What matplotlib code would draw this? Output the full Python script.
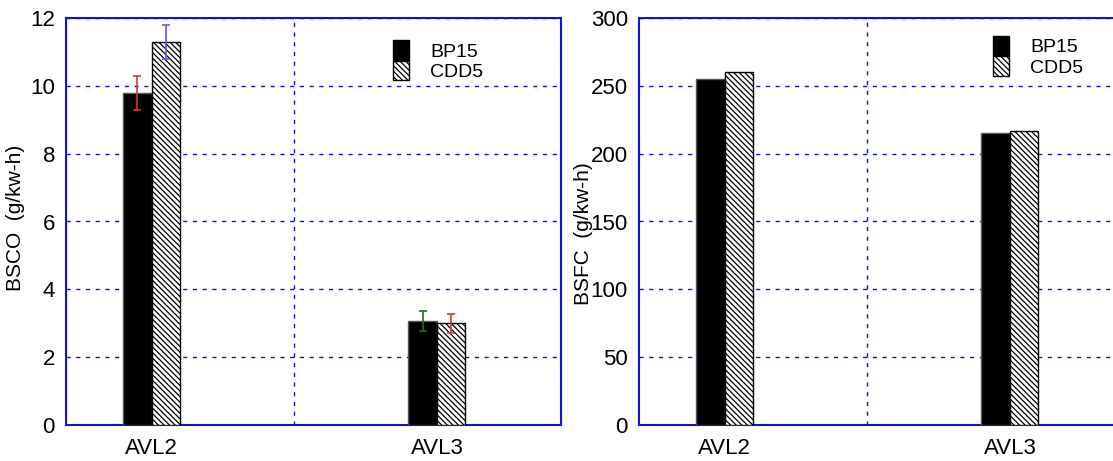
import numpy as np
import matplotlib
matplotlib.use("Agg")
import matplotlib.pyplot as plt
from matplotlib.patches import Patch

# data
categories = ["AVL2", "AVL3"]
series = ["BP15", "CDD5"]
bsco_bp15 = [9.8, 3.07]
bsco_cdd5 = [11.3, 3.0]
bsco_bp15_err = [0.5, 0.3]
bsco_cdd5_err = [0.5, 0.28]
bsco_err_colors_bp15 = ["#e03535", "#1f6e1f"]
bsco_err_colors_cdd5 = ["#5a5ae6", "#e03535"]
bsfc_bp15 = [255, 215.5]
bsfc_cdd5 = [260.5, 216.7]

plt.rcParams["font.family"] = ["Liberation Sans", "DejaVu Sans"]
plt.rcParams["hatch.linewidth"] = 0.9

GRID = "#1010e0"
HATCH = "\\" * 6
x = np.arange(1, len(categories) + 1)
w = 0.10


def draw_panel(ax, v1, v2, ylim, step, ylabel, label_xy, legend_anchor,
               err1=None, err2=None, ec1=None, ec2=None):
    ax.bar(x - w / 2, v1, w, color="black", edgecolor="#555555", linewidth=1, zorder=3)
    ax.bar(x + w / 2, v2, w, color="white", edgecolor="black", hatch=HATCH,
           linewidth=1, zorder=3)
    if err1 is not None:
        for i in range(len(x)):
            ax.errorbar(x[i] - w / 2, v1[i], yerr=err1[i], color=ec1[i], capsize=3,
                        elinewidth=1.4, capthick=1.4, alpha=0.85, zorder=4)
            ax.errorbar(x[i] + w / 2, v2[i], yerr=err2[i], color=ec2[i], capsize=3,
                        elinewidth=1.4, capthick=1.4, alpha=0.85, zorder=4)
    ax.set_xlim(0.7, 2.435)
    ax.set_ylim(*ylim)
    ax.set_yticks(np.arange(ylim[0], ylim[1] + step / 2, step))
    ax.set_xticks(x)
    ax.set_xticklabels(categories)
    ax.set_xticks([1.5], minor=True)
    ax.tick_params(which="both", length=0, labelsize=16)
    ax.tick_params(axis="y", pad=8)
    ax.tick_params(axis="x", pad=9)
    ax.grid(True, axis="y", which="major", color=GRID, linestyle=(0, (3, 4)), linewidth=1)
    ax.grid(True, axis="x", which="minor", color=GRID, linestyle=(0, (3, 4)), linewidth=1)
    for s in ax.spines.values():
        s.set_color(GRID)
        s.set_linewidth(1.5)
    ax.set_ylabel(ylabel, fontsize=15)
    ax.yaxis.set_label_coords(*label_xy)
    handles = [Patch(facecolor="black", edgecolor="black"),
               Patch(facecolor="white", edgecolor="black", hatch=HATCH)]
    ax.legend(handles, series, loc="upper left", bbox_to_anchor=legend_anchor,
              frameon=False, prop={"size": 14},
              handlelength=0.8, handleheight=1.2, handletextpad=1.1,
              labelspacing=0.0, borderaxespad=0)


fig = plt.figure(figsize=(11.13, 4.61), dpi=100)
ax1 = fig.add_axes([66 / 1113, 36 / 461, 495 / 1113, 407 / 461])
ax2 = fig.add_axes([639 / 1113, 36 / 461, 495 / 1113, 407 / 461])

draw_panel(ax1, bsco_bp15, bsco_cdd5, (0, 12), 2, "BSCO  (g/kw-h)", (-0.083, 0.51),
           (0.645, 0.965), bsco_bp15_err, bsco_cdd5_err,
           bsco_err_colors_bp15, bsco_err_colors_cdd5)
draw_panel(ax2, bsfc_bp15, bsfc_cdd5, (0, 300), 50, "BSFC  (g/kw-h)", (-0.093, 0.47),
           (0.7, 0.975))

fig.savefig("out.png", dpi=100)
